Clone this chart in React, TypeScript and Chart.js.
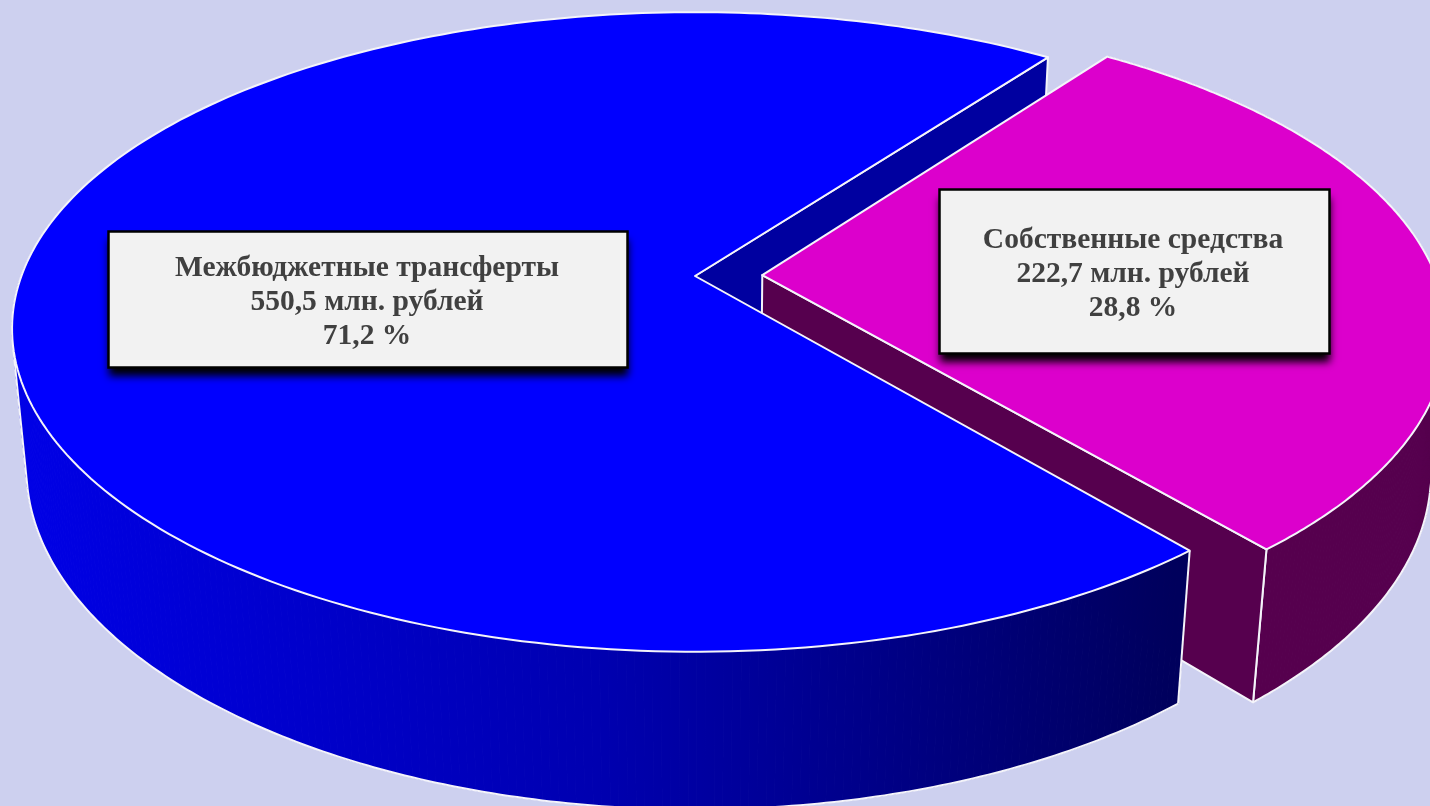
import React, { useEffect, useRef } from "react";
import { Chart, registerables } from "chart.js";

Chart.register(...registerables);

const categories = ["Межбюджетные трансферты", "Собственные средства"];
const values = [550.5, 222.7];
const amountLabels = ["550,5 млн. рублей", "222,7 млн. рублей"];
const percentLabels = ["71,2 %", "28,8 %"];
const explode = [0, 0.1];
const topColors = ["#0000ff", "#dc00cc"];
const wallColors = ["#0000a0", "#56004e"];
const labelBoxes = [
  { x: 108.5, y: 231.5, w: 519, h: 136, first: 267, textX: 367 },
  { x: 939.5, y: 189.5, w: 390, h: 164, first: 239, textX: 1133 },
];
const ROTATION = 140.1;
const LINE = "#f4f4fa";

// Perspective of the pie: plane coordinates (u, v) and depth z (0 top, 1 bottom)
const view = { x0: 695, y0: 276, ax: 673.6, ay: 310, kx: 0.165, ky: 0.175, mx: 0.021, my: 0.0217, h: 141.7 };
const project = (u: number, v: number, z: number): [number, number] => [
  view.x0 + (view.ax * u) / (1 - view.kx * v + view.mx * z),
  view.y0 + (view.ay * v + view.h * z) / (1 - view.ky * v + view.my * z),
];

const pie3d = {
  id: "pie3d",
  beforeDraw(chart: any) {
    const { ctx, width, height } = chart;
    ctx.save();
    ctx.fillStyle = "#cdd0ef";
    ctx.fillRect(0, 0, width, height);
    ctx.restore();
  },
  beforeDatasetsDraw(chart: any) {
    const { ctx } = chart;
    const arcs = chart.getDatasetMeta(0).data;
    const offsets = arcs.map((a: any, i: number) => {
      const mid = (a.startAngle + a.endAngle) / 2;
      return [explode[i] * Math.cos(mid), explode[i] * Math.sin(mid)];
    });
    const rim = (i: number, t: number, z: number) =>
      project(Math.cos(t) + offsets[i][0], Math.sin(t) + offsets[i][1], z);
    const apex = (i: number, z: number) => project(offsets[i][0], offsets[i][1], z);

    const trace = (pts: [number, number][]) => {
      ctx.beginPath();
      pts.forEach((p, n) => (n ? ctx.lineTo(p[0], p[1]) : ctx.moveTo(p[0], p[1])));
    };
    const strokeLine = (pts: [number, number][]) => {
      trace(pts);
      ctx.strokeStyle = LINE;
      ctx.lineWidth = 2;
      ctx.lineJoin = "round";
      ctx.stroke();
    };
    const paint = (pts: [number, number][], fill: any) => {
      trace(pts);
      ctx.closePath();
      ctx.fillStyle = fill;
      ctx.fill();
      ctx.strokeStyle = LINE;
      ctx.lineWidth = 2;
      ctx.lineJoin = "round";
      ctx.stroke();
    };
    const arcPts = (i: number, a: number, b: number, z: number) => {
      const out: [number, number][] = [];
      const n = 240;
      for (let s = 0; s <= n; s++) out.push(rim(i, a + ((b - a) * s) / n, z));
      return out;
    };
    const top = (i: number) =>
      paint([apex(i, 0), ...arcPts(i, arcs[i].startAngle, arcs[i].endAngle, 0)], topColors[i]);
    // The wall is filled quad by quad so that its fold at the silhouette stays filled.
    const outerWall = (i: number, a: number, b: number, fill: any) => {
      const upper = arcPts(i, a, b, 0);
      const lower = arcPts(i, a, b, 1);
      let fold = upper.length - 1;
      let sign = 0;
      for (let s = 0; s < upper.length - 1; s++) {
        const q = [upper[s], upper[s + 1], lower[s + 1], lower[s]];
        let area = 0;
        q.forEach((p, n) => {
          const r = q[(n + 1) % 4];
          area += p[0] * r[1] - r[0] * p[1];
        });
        if (!sign) sign = Math.sign(area);
        else if (Math.sign(area) !== sign && fold === upper.length - 1) fold = s;
        trace(q);
        ctx.closePath();
        ctx.fillStyle = fill;
        ctx.fill();
        ctx.strokeStyle = fill;
        ctx.lineWidth = 1;
        ctx.stroke();
      }
      strokeLine([upper[0], lower[0]]);
      strokeLine(lower.slice(0, fold + 1));
      strokeLine([upper[fold], lower[fold]]);
    };

    const blue = arcs[0];
    const pink = arcs[1];
    ctx.save();
    // back cut face of the large slice
    paint(
      [apex(0, 0), rim(0, blue.endAngle, 0), rim(0, blue.endAngle, 1), apex(0, 1)],
      wallColors[0]
    );
    // outer and front cut faces of the pulled-out slice
    outerWall(1, pink.endAngle, pink.startAngle, wallColors[1]);
    paint(
      [apex(1, 0), rim(1, pink.endAngle, 0), rim(1, pink.endAngle, 1), apex(1, 1)],
      wallColors[1]
    );
    top(1);
    // outer face of the large slice, shaded from left to right
    const g = ctx.createLinearGradient(20, 0, 1175, 0);
    g.addColorStop(0, "#0000e6");
    g.addColorStop(0.5, "#0000b0");
    g.addColorStop(1, "#00005c");
    outerWall(0, blue.startAngle, Math.PI * 1.12, g);
    top(0);
    ctx.restore();
    return false;
  },
  afterDraw(chart: any) {
    const { ctx } = chart;
    ctx.save();
    labelBoxes.forEach((b, i) => {
      ctx.save();
      ctx.shadowColor = "rgba(0,0,0,1)";
      ctx.shadowBlur = 8;
      ctx.shadowOffsetY = 8;
      ctx.fillStyle = "#000";
      ctx.fillRect(b.x, b.y, b.w, b.h);
      ctx.restore();
      ctx.fillStyle = "#f2f2f2";
      ctx.fillRect(b.x, b.y, b.w, b.h);
      ctx.strokeStyle = "#000";
      ctx.lineWidth = 2.5;
      ctx.strokeRect(b.x, b.y, b.w, b.h);
      ctx.fillStyle = "#404040";
      ctx.font = 'bold 29.5px "Liberation Serif"';
      ctx.textAlign = "center";
      ctx.textBaseline = "middle";
      [categories[i], amountLabels[i], percentLabels[i]].forEach((line, n) => {
        ctx.fillText(line, b.textX, b.first + 1 + n * 34);
      });
    });
    ctx.restore();
  },
};

export default function App() {
  const ref = useRef<HTMLCanvasElement | null>(null);
  useEffect(() => {
    document.body.style.margin = "0";
    const chart = new Chart(ref.current as HTMLCanvasElement, {
      type: "pie",
      data: {
        labels: categories,
        datasets: [{ data: values, backgroundColor: topColors }],
      },
      options: {
        responsive: false,
        animation: false,
        rotation: ROTATION,
        plugins: { legend: { display: false }, tooltip: { enabled: false } },
      },
      plugins: [pie3d],
    } as any);
    return () => chart.destroy();
  }, []);
  return <canvas ref={ref} width={1430} height={806} style={{ display: "block" }} />;
}
